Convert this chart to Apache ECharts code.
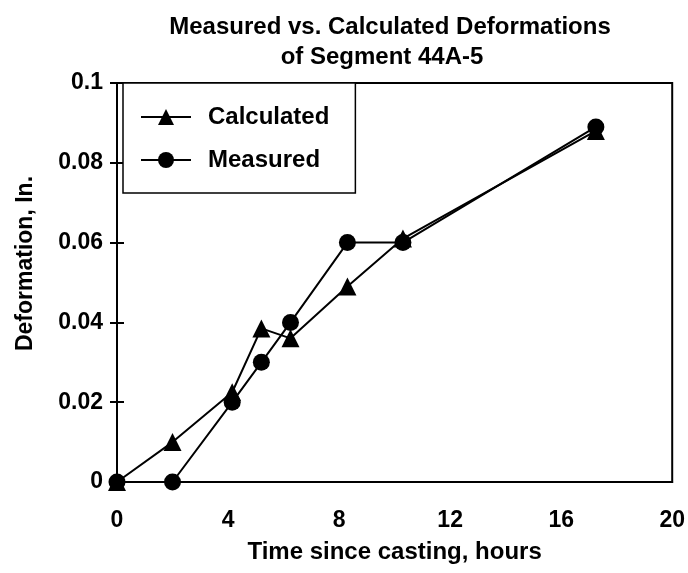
<!DOCTYPE html>
<html>
<head>
<meta charset="utf-8">
<script src="https://cdn.jsdelivr.net/npm/echarts@6/dist/echarts.min.js"></script>
<style>
  html, body { margin: 0; padding: 0; background: #fff; }
  #chart { width: 688px; height: 573px; }
</style>
</head>
<body>
<div id="chart"></div>
<script>
var hours = [0, 2, 4.15, 5.2, 6.25, 8.3, 10.3, 17.25];
var calculated = [0, 0.01, 0.0225, 0.0385, 0.036, 0.049, 0.061, 0.088];
var measured = [0, 0, 0.02, 0.03, 0.04, 0.06, 0.06, 0.089];
var yLabels = ['0', '0.02', '0.04', '0.06', '0.08', '0.1'];

function pairs(xs, ys) {
  return xs.map(function (x, i) { return [x, ys[i]]; });
}

window.onload = function () {
  var font = 'Liberation Sans, Arial, Helvetica, sans-serif';
  var txt = { fontFamily: font, fontWeight: 'bold', color: '#000' };
  function ts(extra) { return Object.assign({}, txt, extra); }

  var chart = echarts.init(document.getElementById('chart'));
  var option = {
    animation: false,
    backgroundColor: '#fff',
    textStyle: { fontFamily: font, color: '#000' },
    title: [
      {
        text: 'Measured vs. Calculated Deformations',
        left: 390, top: 13, textAlign: 'center', padding: 0,
        textStyle: ts({ fontSize: 24, lineHeight: 28 })
      },
      {
        text: 'of Segment 44A-5',
        left: 382, top: 43, textAlign: 'center', padding: 0,
        textStyle: ts({ fontSize: 24, lineHeight: 28 })
      }
    ],
    legend: {
      orient: 'vertical',
      left: 123,
      top: 83,
      padding: [19, 26, 18, 17],
      itemWidth: 50,
      itemHeight: 20,
      itemGap: 13,
      borderColor: '#000',
      borderWidth: 1.5,
      backgroundColor: '#fff',
      textStyle: ts({ fontSize: 24, lineHeight: 30, padding: [0, 0, 0, 12] }),
      data: ['Calculated', 'Measured']
    },
    grid: {
      left: 117, right: 13, top: 83, bottom: 91,
      show: true, borderColor: '#000', borderWidth: 2
    },
    xAxis: {
      type: 'value',
      min: 0, max: 20, interval: 4,
      name: 'Time since casting, hours',
      nameLocation: 'middle',
      nameGap: 58,
      nameTextStyle: ts({ fontSize: 24 }),
      axisLine: { lineStyle: { color: '#000', width: 2 } },
      axisTick: { show: false },
      splitLine: { show: false },
      axisLabel: ts({ fontSize: 23, margin: 27 })
    },
    yAxis: [
      {
        type: 'value',
        min: 0, max: 0.1, interval: 0.02,
        name: 'Deformation, In.',
        nameLocation: 'middle',
        nameGap: 80,
        nameTextStyle: ts({ fontSize: 23, padding: [0, 0, 0, 38] }),
        axisLine: { lineStyle: { color: '#000', width: 2 } },
        axisTick: { show: true, length: 7, lineStyle: { color: '#000', width: 2 } },
        splitLine: { show: false },
        axisLabel: ts({
          fontSize: 23, margin: 14,
          formatter: function (v) { return yLabels[Math.round(v / 0.02)]; }
        })
      },
      {
        type: 'value',
        position: 'left',
        min: 0, max: 0.1, interval: 0.02,
        axisLine: { show: false },
        axisTick: { show: true, inside: true, length: 7, lineStyle: { color: '#000', width: 2 } },
        axisLabel: { show: false },
        splitLine: { show: false }
      }
    ],
    series: [
      {
        name: 'Calculated',
        type: 'line',
        data: pairs(hours, calculated),
        symbol: 'triangle',
        symbolSize: 18,
        lineStyle: { color: '#000', width: 2 },
        itemStyle: { color: '#000' }
      },
      {
        name: 'Measured',
        type: 'line',
        data: pairs(hours, measured),
        symbol: 'circle',
        symbolSize: 17,
        lineStyle: { color: '#000', width: 2 },
        itemStyle: { color: '#000' }
      }
    ]
  };
  chart.setOption(option);
};
</script>
</body>
</html>
